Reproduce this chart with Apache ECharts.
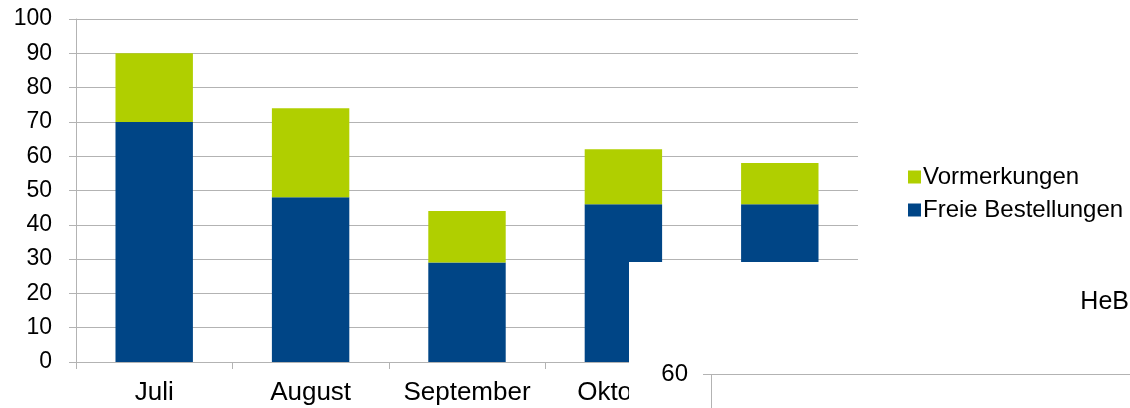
<!DOCTYPE html>
<html>
<head>
<meta charset="utf-8">
<script src="https://cdn.jsdelivr.net/npm/echarts@6/dist/echarts.min.js"></script>
<style>
html,body{margin:0;padding:0;background:#fff;}
#chart{width:1130px;height:408px;}
</style>
</head>
<body>
<div id="chart"></div>
<script>
const categories = ['Juli', 'August', 'September', 'Oktober', 'November'];
const freieBestellungen = [70, 48, 29, 46, 46];
const vormerkungen = [20, 26, 15, 16, 12];
const yTicks = [0, 10, 20, 30, 40, 50, 60, 70, 80, 90, 100];

const FONT = '"Liberation Sans", Arial, sans-serif';
const chart = echarts.init(document.getElementById('chart'), null, {renderer: 'canvas'});
chart.setOption({
  animation: false,
  backgroundColor: '#ffffff',
  grid: {left: 76, right: 272, top: 19, bottom: 46, containLabel: false},
  legend: {
    orient: 'vertical',
    left: 903, top: 160,
    itemWidth: 13, itemHeight: 13, itemGap: 9,
    icon: 'rect',
    data: ['Vormerkungen', 'Freie Bestellungen'],
    textStyle: {fontFamily: FONT, fontSize: 24, color: '#000', padding: [0, 0, 0, -3]}
  },
  xAxis: {
    type: 'category',
    data: categories,
    axisLine: {lineStyle: {color: '#b3b3b3', width: 1}},
    axisTick: {show: true, length: 7, lineStyle: {color: '#b3b3b3'}},
    axisLabel: {fontFamily: FONT, fontSize: 26, color: '#000', margin: 18, interval: 0, hideOverlap: false}
  },
  yAxis: {
    type: 'value',
    min: yTicks[0], max: yTicks[yTicks.length - 1], interval: 10,
    axisLine: {show: true, lineStyle: {color: '#b3b3b3', width: 1}},
    axisTick: {show: true, length: 7, lineStyle: {color: '#b3b3b3'}},
    splitLine: {show: true, lineStyle: {color: '#b3b3b3', width: 1}},
    axisLabel: {fontFamily: FONT, fontSize: 23, color: '#000', margin: 24}
  },
  series: [
    {
      name: 'Freie Bestellungen', type: 'bar', stack: 'total',
      data: freieBestellungen, barWidth: '49.5%',
      itemStyle: {color: '#004586'}
    },
    {
      name: 'Vormerkungen', type: 'bar', stack: 'total',
      data: vormerkungen, barWidth: '49.5%',
      itemStyle: {color: '#b0cf00'}
    }
  ],
  graphic: [
    {type: 'rect', z: 100, shape: {x: 629, y: 262, width: 501, height: 146}, style: {fill: '#ffffff'}},
    {type: 'text', z: 101, x: 1129, y: 302, style: {text: 'HeB', font: '25px ' + FONT, fill: '#000', textAlign: 'right', textVerticalAlign: 'middle'}},
    {type: 'text', z: 101, x: 688, y: 374, style: {text: '60', font: '24px ' + FONT, fill: '#000', textAlign: 'right', textVerticalAlign: 'middle'}},
    {type: 'line', z: 101, shape: {x1: 703, y1: 374.5, x2: 1130, y2: 374.5}, style: {stroke: '#b3b3b3', lineWidth: 1}},
    {type: 'line', z: 101, shape: {x1: 711.5, y1: 374, x2: 711.5, y2: 408}, style: {stroke: '#b3b3b3', lineWidth: 1}}
  ]
});
</script>
</body>
</html>
